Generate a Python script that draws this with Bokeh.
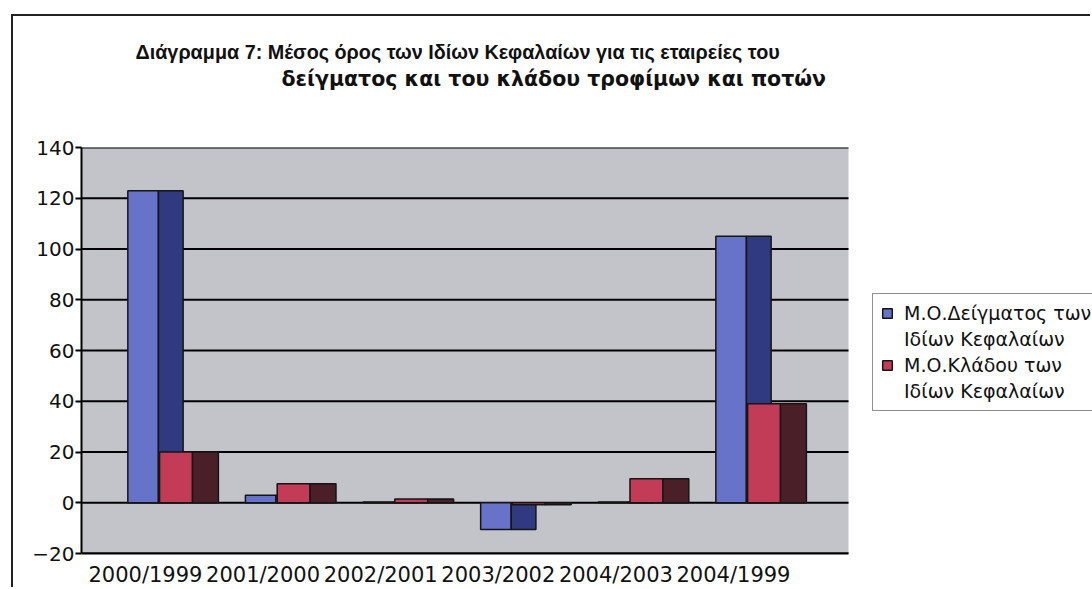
from bokeh.plotting import figure
from bokeh.models import FixedTicker, ColumnDataSource, Title, Legend, LegendItem
from bokeh.transform import dodge
from bokeh.embed import file_html
from bokeh.resources import INLINE

# ---- data ----
categories = ["2000/1999", "2001/2000", "2002/2001", "2003/2002", "2004/2003", "2004/1999"]
sample_equity = [123, 3, 0.3, -10.5, 0.3, 105]      # Μ.Ο. Δείγματος
industry_equity = [20, 7.5, 1.5, -0.8, 9.5, 39]     # Μ.Ο. Κλάδου
y_ticks = [-20, 0, 20, 40, 60, 80, 100, 120, 140]
title_line1 = "Διάγραμμα  7: Μέσος όρος των Ιδίων Κεφαλαίων για τις εταιρείες του"
title_line2 = "δείγματος και του κλάδου τροφίμων και ποτών"
legend_sample = ["Μ.Ο.Δείγματος των", "Ιδίων Κεφαλαίων"]
legend_industry = ["Μ.Ο.Κλάδου των", "Ιδίων Κεφαλαίων"]

idx = list(range(len(categories)))
src = ColumnDataSource(dict(x=idx, s=sample_equity, i=industry_equity, zero=[0] * len(idx)))

FONT = "DejaVu Sans"
BLUE, BLUE_D = "#6673c9", "#2f3a80"
RED, RED_D = "#c23c58", "#4a1f28"
OUT = "#151515"
WALL = "#c3c4c9"

# plot-area extent along x (category units); the frame continues to the right for the legend
X0, X1 = -0.544, 5.978
X_END = X0 + (1092 - 81) / ((848 - 81) / (X1 - X0))
Y0, Y1 = y_ticks[0], y_ticks[-1]

OX, OY = 13, 16            # canvas origin on the page (inside the chart border)
W, H = 1092 - OX, 589 - OY
p = figure(width=W, height=H, output_backend="svg", toolbar_location=None,
           x_range=(X0, X_END), y_range=(Y0, Y1),
           min_border_left=81 - OX, min_border_right=0, min_border_top=147 - OY,
           min_border_bottom=589 - 553,
           background_fill_color="white", border_fill_color="white")
p.outline_line_color = None
p.margin = (OY - 2, 0, 0, OX - 2)
p.styles = {"border-left": "2px solid #222", "border-top": "2px solid #222"}

# grey plot area and its black gridlines
p.quad(left=[X0], right=[X1], bottom=[Y0], top=[Y1], fill_color=WALL, line_color=None)
p.segment(x0=[X0] * len(y_ticks), x1=[X1] * len(y_ticks), y0=y_ticks, y1=y_ticks,
          line_color="black", line_width=2)

# bars (front faces and darker side faces for a 3D look)
rb = p.vbar(x=dodge("x", -0.02), width=0.26, top="s", bottom="zero", source=src,
            fill_color=BLUE, line_color=OUT, line_width=1.5)
p.vbar(x=dodge("x", 0.215), width=0.21, top="s", bottom="zero", source=src,
       fill_color=BLUE_D, line_color=OUT, line_width=1.5)
rr = p.vbar(x=dodge("x", 0.26), width=0.28, top="i", bottom="zero", source=src,
            fill_color=RED, line_color=OUT, line_width=1.5)
p.vbar(x=dodge("x", 0.51), width=0.22, top="i", bottom="zero", source=src,
       fill_color=RED_D, line_color=OUT, line_width=1.5)
blank = p.vbar(x=[], top=[], width=0.1, fill_alpha=0, line_alpha=0)

# axes
p.yaxis.ticker = FixedTicker(ticks=y_ticks)
p.yaxis.major_label_text_font = FONT
p.yaxis.major_label_text_font_size = "20px"
p.yaxis.major_label_text_color = "#111"
p.yaxis.axis_line_color = "black"
p.yaxis.axis_line_width = 2
p.yaxis.major_tick_line_color = "black"
p.yaxis.major_tick_line_width = 2
p.yaxis.major_tick_out = 6
p.yaxis.major_tick_in = 0
p.yaxis.minor_tick_line_color = None
p.yaxis.major_label_standoff = 1

p.xaxis.ticker = FixedTicker(ticks=idx)
p.xaxis.bounds = (X0, X1)
p.xaxis.major_label_overrides = {i: c for i, c in zip(idx, categories)}
p.xaxis.major_label_text_font = FONT
p.xaxis.major_label_text_font_size = "21px"
p.xaxis.major_label_text_color = "#111"
p.xaxis.axis_line_color = "black"
p.xaxis.axis_line_width = 2
p.xaxis.major_tick_line_color = None
p.xaxis.minor_tick_line_color = None
p.xaxis.major_label_standoff = 3

p.xgrid.grid_line_color = None
p.ygrid.grid_line_color = None

# title: panels stack outward from the frame (spacer, line 2, line 1)
p.add_layout(Title(text=" ", text_font=FONT, text_font_size="17px", standoff=33), "above")
p.add_layout(Title(text=title_line2, align="left", offset=281 - 81, standoff=4,
                   text_font=FONT, text_font_style="bold", text_font_size="20.5px",
                   text_color="#111"), "above")
p.add_layout(Title(text=title_line1, align="left", offset=135 - 81, standoff=0,
                   vertical_align="bottom",
                   text_font="Liberation Sans", text_font_style="bold",
                   text_font_size="19.8px", text_color="#111"), "above")

# legend (each two-line entry as a coloured line plus a plain continuation line)
legend = Legend(items=[LegendItem(label=legend_sample[0], renderers=[rb]),
                       LegendItem(label=legend_sample[1], renderers=[blank]),
                       LegendItem(label=legend_industry[0], renderers=[rr]),
                       LegendItem(label=legend_industry[1], renderers=[blank])],
                location=(872 - 81, 553 - 411), margin=0, padding=8, spacing=4,
                glyph_width=12, glyph_height=12, label_height=20, label_standoff=11,
                label_text_font=FONT, label_text_font_size="19px", label_text_color="#111",
                border_line_color="#222", border_line_width=1.5,
                background_fill_color="white", background_fill_alpha=1)
p.add_layout(legend)

open("out.html", "w").write(file_html(p, INLINE))
